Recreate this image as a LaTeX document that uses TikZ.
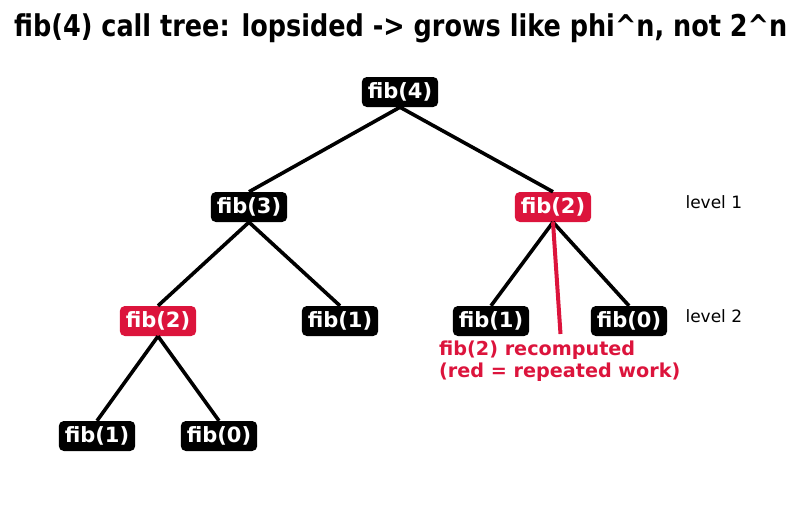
\documentclass[tikz,border=0pt]{standalone}
\usepackage{fontspec}
\usepackage{graphicx}
\setmainfont{DejaVu Sans}
\newfontfamily\boldfont{DejaVu Sans Bold}
\definecolor{crim}{HTML}{DC143C}
\begin{document}
\begin{tikzpicture}[x=1pt,y=-1pt,
  fnode/.style={fill=black,text=white,rounded corners=5pt,inner xsep=6pt,inner ysep=0pt,
    minimum height=30pt,font=\boldfont\fontsize{21}{21}\selectfont},
  rnode/.style={fnode,fill=crim},
  edge/.style={line width=3.6pt},
  lvl/.style={font=\fontsize{17}{17}\selectfont,anchor=west}]
\useasboundingbox (0,0) rectangle (801,512);
\node[anchor=base west,inner sep=0pt] (title) at (14,36)
  {\resizebox{773pt}{\height}{\boldfont\fontsize{30}{30}\selectfont fib(4) call tree: lopsided -> grows like phi\textasciicircum n, not 2\textasciicircum n}};
% nodes
\node[fnode] (n4) at (400,92) {fib(4)};
\node[fnode] (n3) at (249,207) {fib(3)};
\node[rnode] (n2r) at (553,207) {fib(2)};
\node[rnode] (n2l) at (158,321) {fib(2)};
\node[fnode] (n1a) at (340,321) {fib(1)};
\node[fnode] (n1b) at (491,321) {fib(1)};
\node[fnode] (n0a) at (629,321) {fib(0)};
\node[fnode] (n1c) at (97,436) {fib(1)};
\node[fnode] (n0b) at (219,436) {fib(0)};
\coordinate (annot) at (560.5,334);
% edges
\draw[edge] (n4.south) -- (n3.north);
\draw[edge] (n4.south) -- (n2r.north);
\draw[edge] (n3.south) -- (n2l.north);
\draw[edge] (n3.south) -- (n1a.north);
\draw[edge] (n2r.south) -- (n1b.north);
\draw[edge] (n2r.south) -- (n0a.north);
\draw[edge] (n2l.south) -- (n1c.north);
\draw[edge] (n2l.south) -- (n0b.north);
\draw[line width=4pt,crim] (annot) -- (n2r.south);
\node[lvl] (l1) at (682,202) {level 1};
\node[lvl] (l2) at (682,316) {level 2};
\node[anchor=north west,inner sep=0pt,text=crim,align=left,
  font=\boldfont\fontsize{19.2}{22}\selectfont] (note) at (439,341)
  {fib(2) recomputed\\(red = repeated work)};
\end{tikzpicture}
\end{document}
